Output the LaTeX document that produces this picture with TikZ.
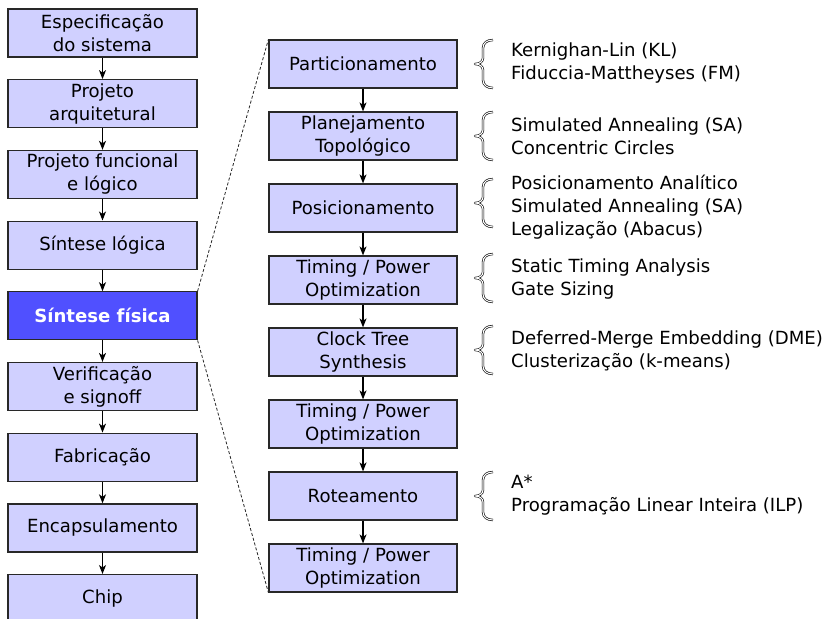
\documentclass[tikz,border=0pt]{standalone}
\usepackage{fontspec}
\setmainfont{DejaVu Sans}
\usetikzlibrary{arrows.meta}
\definecolor{boxfill}{RGB}{208,208,255}
\definecolor{hifill}{RGB}{80,80,255}
\definecolor{edge}{RGB}{40,40,40}

\begin{document}
\begin{tikzpicture}[x=1pt,y=-1pt,
  font=\fontsize{18.1}{23}\selectfont,
  stage/.style={draw=edge, line width=1.2pt, fill=boxfill, minimum width=189pt,
    minimum height=48pt, inner sep=0pt, align=center},
  hot/.style={stage, fill=hifill, text=white, font=\fontsize{18.1}{23}\selectfont\bfseries},
  flow/.style={-{Stealth[length=9pt,width=7pt,inset=2.5pt]}, line width=1.1pt},
  zoomline/.style={dash pattern=on 3pt off 2pt, line width=0.8pt, draw=black!85},
  methods/.style={anchor=west, align=left, inner sep=0pt},
  curlybrace/.pic={
    \draw[line width=0.6pt, double=white, double distance=1.1pt, line join=round]
      (10,-24) .. controls (4,-24) and (0,-21) .. (0,-16) -- (0,-6)
      .. controls (0,-2) and (-4,0) .. (-8,0)
      .. controls (-4,0) and (0,2) .. (0,6) -- (0,16)
      .. controls (0,21) and (4,24) .. (10,24);
  }
]
\useasboundingbox (0,0) rectangle (826,618);

% design flow (left column)
\node[stage] (spec) at (102.5,33)    {Especificação\\do sistema};
\node[stage] (arq)  at (102.5,103.7) {Projeto\\arquitetural};
\node[stage] (func) at (102.5,174.4) {Projeto funcional\\e lógico};
\node[stage] (log)  at (102.5,245.1) {Síntese lógica};
\node[hot]   (fis)  at (102.5,315.8) {Síntese física};
\node[stage] (ver)  at (102.5,386.5) {Verificação\\e signoff};
\node[stage] (fab)  at (102.5,457.2) {Fabricação};
\node[stage] (enc)  at (102.5,527.9) {Encapsulamento};
\node[stage] (chip) at (102.5,598.6) {Chip};

\draw[flow] (spec) -- (arq);
\draw[flow] (arq) -- (func);
\draw[flow] (func) -- (log);
\draw[flow] (log) -- (fis);
\draw[flow] (fis) -- (ver);
\draw[flow] (ver) -- (fab);
\draw[flow] (fab) -- (enc);
\draw[flow] (enc) -- (chip);

% physical synthesis steps (right column)
\node[stage, minimum width=188pt] (part) at (363,64)  {Particionamento};
\node[stage, minimum width=188pt] (plan) at (363,136) {Planejamento\\Topológico};
\node[stage, minimum width=188pt] (pos)  at (363,208) {Posicionamento};
\node[stage, minimum width=188pt] (opt1) at (363,280) {Timing / Power\\Optimization};
\node[stage, minimum width=188pt] (cts)  at (363,352) {Clock Tree\\Synthesis};
\node[stage, minimum width=188pt] (opt2) at (363,424) {Timing / Power\\Optimization};
\node[stage, minimum width=188pt] (rot)  at (363,496) {Roteamento};
\node[stage, minimum width=188pt] (opt3) at (363,568) {Timing / Power\\Optimization};

\draw[flow] (part) -- (plan);
\draw[flow] (plan) -- (pos);
\draw[flow] (pos) -- (opt1);
\draw[flow] (opt1) -- (cts);
\draw[flow] (cts) -- (opt2);
\draw[flow] (opt2) -- (rot);
\draw[flow] (rot) -- (opt3);

% zoom-in guides
\draw[zoomline] (fis.north east) -- (part.north west);
\draw[zoomline] (fis.south east) -- (opt3.south west);

% algorithms for each step
\pic at (483,64) {curlybrace};
\node[methods] (m1) at (511,63.5) {Kernighan-Lin (KL)\\Fiduccia-Mattheyses (FM)};
\pic at (483,136) {curlybrace};
\node[methods] (m2) at (511,136) {Simulated Annealing (SA)\\Concentric Circles};
\pic at (483,203) {curlybrace};
\node[methods] (m3) at (511,207) {Posicionamento Analítico\\Simulated Annealing (SA)\\Legalização (Abacus)};
\pic at (483,278) {curlybrace};
\node[methods] (m4) at (511,279) {Static Timing Analysis\\Gate Sizing};
\pic at (483,350) {curlybrace};
\node[methods] (m5) at (511,351) {Deferred-Merge Embedding (DME)\\Clusterização (k-means)};
\pic at (483,496) {curlybrace};
\node[methods] (m7) at (511,495) {A*\\Programação Linear Inteira (ILP)};
\end{tikzpicture}
\end{document}
